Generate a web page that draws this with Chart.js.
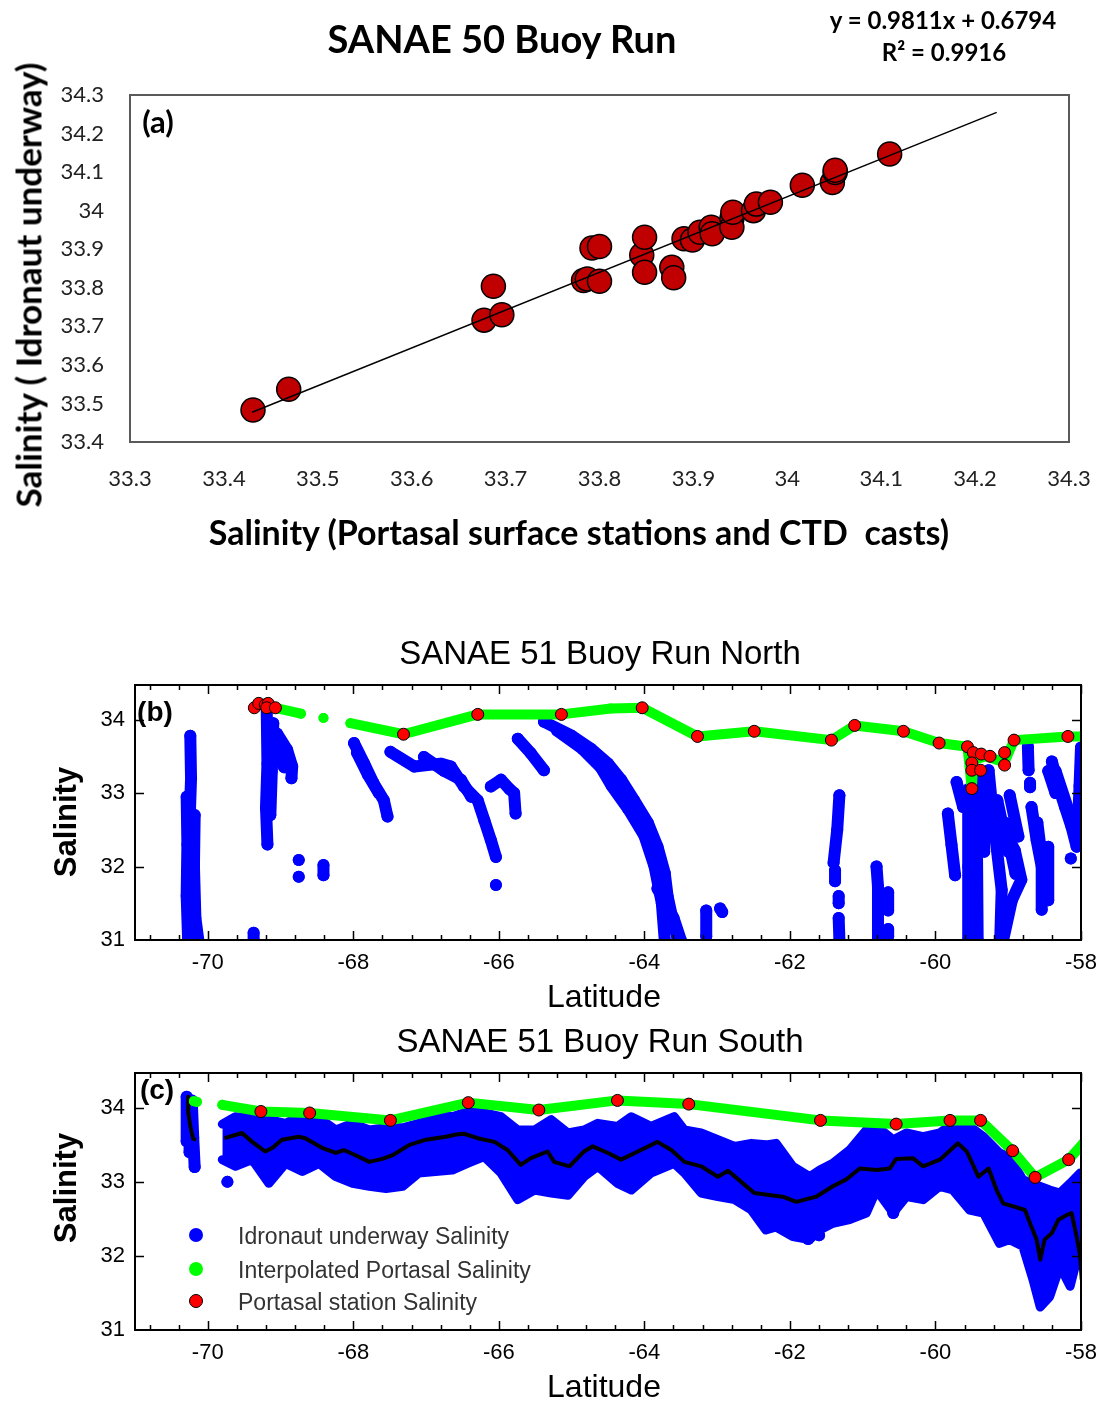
<!DOCTYPE html>
<html><head><meta charset="utf-8">
<script src="https://cdn.jsdelivr.net/npm/chart.js@4.4.1/dist/chart.umd.min.js"></script>
<style>
html,body{margin:0;padding:0;background:#fff;}
#wrap{position:relative;width:1099px;height:1402px;overflow:hidden;background:#fff;}
canvas{position:absolute;left:0;}
.t{position:absolute;white-space:nowrap;line-height:1;transform:translate(-50%,-50%);color:#000;}
.cal{font-family:Lato,"Open Sans",sans-serif;font-weight:700;}
.ari{font-family:"Liberation Sans",Arial,sans-serif;}
.rot{transform:translate(-50%,-50%) rotate(-90deg);}
.lg{position:absolute;left:238px;white-space:nowrap;line-height:1;transform:translateY(-50%);font-family:"Liberation Sans",Arial,sans-serif;font-size:23px;color:#333;}
.dot{position:absolute;width:14px;height:14px;border-radius:50%;transform:translate(-50%,-50%);}
</style></head><body>
<div id="wrap">
<canvas id="cA" width="1099" height="570" style="top:0"></canvas>
<canvas id="cB" width="1099" height="440" style="top:570px"></canvas>
<canvas id="cC" width="1099" height="392" style="top:1010px"></canvas>

<div class="t cal" style="left:502px;top:38px;font-size:38px;">SANAE 50 Buoy Run</div>
<div class="t cal" style="left:943px;top:20px;font-size:24px;">y = 0.9811x + 0.6794</div>
<div class="t cal" style="left:944px;top:52px;font-size:24px;">R² = 0.9916</div>
<div class="t cal" style="left:158px;top:121px;font-size:31px;">(a)</div>
<div class="t cal rot" style="left:28px;top:285px;font-size:35px;">Salinity ( Idronaut underway)</div>
<div class="t cal" style="left:579px;top:532px;font-size:34px;">Salinity (Portasal surface stations and CTD&nbsp; casts)</div>

<div class="t ari" style="left:600px;top:652px;font-size:33px;">SANAE 51 Buoy Run North</div>
<div class="t ari" style="left:155px;top:712px;font-size:28px;font-weight:700;">(b)</div>
<div class="t ari rot" style="left:65px;top:822px;font-size:31px;font-weight:700;">Salinity</div>
<div class="t ari" style="left:604px;top:996px;font-size:32px;">Latitude</div>

<div class="t ari" style="left:600px;top:1040px;font-size:33px;">SANAE 51 Buoy Run South</div>
<div class="t ari" style="left:157px;top:1090px;font-size:28px;font-weight:700;">(c)</div>
<div class="t ari rot" style="left:65px;top:1188px;font-size:31px;font-weight:700;">Salinity</div>
<div class="t ari" style="left:604px;top:1386px;font-size:32px;">Latitude</div>

<div class="dot" style="left:196px;top:1235px;background:#0000ff;"></div>
<div class="dot" style="left:196px;top:1269px;background:#00ff00;"></div>
<div class="dot" style="left:196px;top:1301px;background:#ff0000;border:1px solid #000;width:12px;height:12px;"></div>
<div class="lg" style="top:1236px;">Idronaut underway Salinity</div>
<div class="lg" style="top:1270px;">Interpolated Portasal Salinity</div>
<div class="lg" style="top:1302px;">Portasal station Salinity</div>
</div>

<script>
// ================= Panel (a) data =================
const portasalSalinity = [33.431, 33.469, 33.677, 33.687, 33.696, 33.783, 33.787, 33.792, 33.800, 33.800, 33.845, 33.848, 33.848, 33.877, 33.879, 33.890, 33.899, 33.907, 33.919, 33.920, 33.941, 33.941, 33.942, 33.964, 33.967, 33.982, 34.016, 34.048, 34.051, 34.051, 34.109];
const idronautSalinity = [33.483, 33.537, 33.716, 33.804, 33.730, 33.819, 33.823, 33.903, 33.907, 33.817, 33.885, 33.931, 33.840, 33.853, 33.826, 33.927, 33.924, 33.944, 33.957, 33.940, 33.979, 33.957, 33.996, 34.000, 34.017, 34.022, 34.066, 34.073, 34.099, 34.105, 34.147];
const fitLineX = [33.43, 34.223];
const fitLineY = [33.477, 34.255];
const aXTicks = [33.3, 33.4, 33.5, 33.6, 33.7, 33.8, 33.9, 34.0, 34.1, 34.2, 34.3];
const aXTickLabels = ['33.3','33.4','33.5','33.6','33.7','33.8','33.9','34','34.1','34.2','34.3'];
const aYTicks = [33.4, 33.5, 33.6, 33.7, 33.8, 33.9, 34.0, 34.1, 34.2, 34.3];
const aYTickLabels = ['33.4','33.5','33.6','33.7','33.8','33.9','34','34.1','34.2','34.3'];

// ================= Shared latitude axes (b, c) =================
const latTicks = [-70, -68, -66, -64, -62, -60, -58];
const latTickLabels = ['-70','-68','-66','-64','-62','-60','-58'];
const salTicks = [31, 32, 33, 34];
const salTickLabels = ['31','32','33','34'];

// ================= Panel (b) data =================
const northInterpLat = [-69.30, -69.07, -68.72, null, -68.41, null, -68.04, -67.31, -66.29, -65.14, -64.46, -64.03, -63.27, -62.49, -61.43, -61.11, -60.44, -59.95, -59.56, -59.50, -59.48, -59.30, -59.15, -59.05, -58.92, -58.18, -58.00];
const northInterpSal = [34.20, 34.16, 34.08, null, 34.02, null, 33.95, 33.80, 34.07, 34.07, 34.15, 34.16, 33.77, 33.84, 33.72, 33.92, 33.84, 33.68, 33.63, 33.05, 33.45, 33.50, 33.45, 33.42, 33.72, 33.77, 33.77];
const northStationLat = [-69.36, -69.30, -69.21, -69.17, -69.19, -69.07, -67.31, -66.29, -65.14, -64.03, -63.27, -62.49, -61.43, -61.11, -60.44, -59.95, -59.56, -59.48, -59.37, -59.25, -59.50, -59.50, -59.38, -59.50, -59.05, -59.05, -58.92, -58.18];
const northStationSal = [34.16, 34.22, 34.20, 34.22, 34.16, 34.16, 33.80, 34.07, 34.07, 34.16, 33.77, 33.84, 33.72, 33.92, 33.84, 33.68, 33.63, 33.55, 33.53, 33.50, 33.41, 33.31, 33.31, 33.06, 33.55, 33.38, 33.72, 33.77];
// Idronaut underway tracks (lat, salinity), read along each streak of dots
const northIdronautTracks = [
  [[-70.24,33.78],[-70.23,33.2],[-70.25,32.6],[-70.24,32.0],[-70.24,31.0]],
  [[-70.29,32.95],[-70.28,32.3],[-70.29,31.6],[-70.27,31.0]],
  [[-70.18,32.7],[-70.19,32.0],[-70.17,31.3],[-70.13,31.0]],
  [[-69.37,31.1],[-69.37,31.0]],
  [[-69.19,34.15],[-69.18,33.4],[-69.20,32.8],[-69.18,32.3]],
  [[-69.10,33.95],[-69.12,33.3],[-69.14,32.7]],
  [[-69.05,33.81],[-68.91,33.59],[-68.84,33.36],[-68.85,33.2]],
  [[-69.08,33.6],[-68.95,33.35]],
  [[-68.75,32.09]],
  [[-68.75,31.86]],
  [[-68.41,32.02],[-68.41,31.88]],
  [[-67.99,33.68],[-67.85,33.40],[-67.72,33.13],[-67.58,32.90],[-67.53,32.68]],
  [[-67.95,33.55],[-67.80,33.25],[-67.65,33.0]],
  [[-67.49,33.56],[-67.16,33.36],[-66.80,33.40],[-66.66,33.36],[-66.48,33.09],[-66.29,32.90],[-66.20,32.63],[-66.11,32.36],[-66.04,32.13]],
  [[-67.03,33.49],[-66.75,33.30],[-66.52,33.18],[-66.38,32.95]],
  [[-66.04,31.75]],
  [[-66.11,33.09],[-65.97,33.18],[-65.85,33.05],[-65.79,33.0],[-65.77,32.72]],
  [[-65.74,33.74],[-65.56,33.54],[-65.38,33.31]],
  [[-65.38,33.97],[-65.0,33.78],[-64.73,33.6],[-64.5,33.4],[-64.32,33.18],[-64.14,32.9],[-63.95,32.59],[-63.82,32.27],[-63.72,31.91],[-63.68,31.59],[-63.61,31.27],[-63.54,31.0]],
  [[-65.2,33.85],[-64.85,33.6],[-64.60,33.35],[-64.45,33.1],[-64.22,32.78],[-64.0,32.42],[-63.86,32.0],[-63.76,31.5],[-63.72,31.0]],
  [[-63.82,31.7],[-63.6,31.3],[-63.5,31.0]],
  [[-63.15,31.4],[-63.15,31.05]],
  [[-62.96,31.43],[-62.93,31.38]],
  [[-61.32,32.97],[-61.35,32.5],[-61.40,32.05]],
  [[-61.38,31.95],[-61.38,31.8]],
  [[-61.33,31.6],[-61.33,31.5]],
  [[-61.33,31.3],[-61.32,31.0]],
  [[-60.81,32.0],[-60.79,31.73],[-60.79,31.37],[-60.79,31.0]],
  [[-60.65,31.65],[-60.65,31.4]],
  [[-60.65,31.15],[-60.65,31.05]],
  [[-59.83,32.72],[-59.78,32.3],[-59.73,31.88]],
  [[-59.71,33.15],[-59.62,32.81]],
  [[-59.55,33.05],[-59.55,32.0],[-59.55,31.0]],
  [[-59.48,33.1],[-59.49,32.2],[-59.48,31.0]],
  [[-59.41,33.27],[-59.43,32.3],[-59.42,31.0]],
  [[-59.34,33.2],[-59.33,32.2]],
  [[-59.27,33.31],[-59.20,32.6],[-59.09,31.68],[-59.11,31.0]],
  [[-59.15,32.9],[-59.0,32.2]],
  [[-59.05,32.6],[-58.9,31.9]],
  [[-59.21,32.81],[-58.91,32.22],[-58.82,31.82],[-58.95,31.54],[-59.07,31.0]],
  [[-58.98,32.97],[-58.86,32.41]],
  [[-58.68,32.81],[-58.61,32.36],[-58.54,32.0],[-58.54,31.41]],
  [[-58.60,32.6],[-58.50,31.8]],
  [[-58.45,32.27],[-58.45,31.54]],
  [[-58.73,33.63],[-58.72,33.31]],
  [[-58.70,33.14],[-58.70,33.08]],
  [[-58.40,33.43],[-58.31,33.09],[-58.22,32.81],[-58.13,32.54],[-58.06,32.27]],
  [[-58.45,33.3],[-58.35,33.0]],
  [[-58.35,33.3],[-58.15,32.7]],
  [[-58.0,33.62],[-58.02,33.1],[-58.05,32.35]],
  [[-58.14,32.11]]
];

// ================= Panel (c) data =================
const southInterpLat = [-70.19, -70.15, null, -69.80, -69.27, -68.60, -67.49, -66.42, -65.45, -64.37, -63.39, -61.58, -60.54, -59.80, -59.38, -58.94, -58.63, -58.17, -57.97];
const southInterpSal = [34.09, 34.08, null, 34.04, 33.95, 33.93, 33.83, 34.07, 33.97, 34.10, 34.05, 33.83, 33.78, 33.83, 33.83, 33.42, 33.06, 33.30, 33.52];
const southStationLat = [-69.27, -68.60, -67.49, -66.42, -65.45, -64.37, -63.39, -61.58, -60.54, -59.80, -59.38, -58.94, -58.63, -58.17];
const southStationSal = [33.95, 33.93, 33.83, 34.07, 33.97, 34.10, 34.05, 33.83, 33.78, 33.83, 33.83, 33.42, 33.06, 33.30];
// running-mean (black) line
const southMeanLat = [-70.26,-70.27,-70.24,-70.20,-70.16,null,
  -69.77,-69.53,-69.39,-69.21,-69.11,-68.98,-68.75,-68.66,-68.43,-68.24,-68.13,-67.97,-67.78,-67.60,-67.46,-67.23,-67.00,-66.73,-66.59,-66.48,-66.29,-66.06,-65.88,-65.70,-65.56,-65.33,-65.24,-65.03,-64.83,-64.71,-64.50,-64.32,-64.09,-63.82,-63.63,-63.45,-63.22,-62.99,-62.85,-62.67,-62.49,-62.26,-62.10,-61.91,-61.64,-61.41,-61.23,-61.04,-60.81,-60.63,-60.54,-60.31,-60.17,-59.94,-59.69,-59.57,-59.41,-59.27,-59.16,-59.07,-58.93,-58.77,-58.70,-58.61,-58.56,-58.50,-58.40,-58.31,-58.20,-58.13,-58.06,-58.01,-57.99];
const southMeanSal = [34.15,33.95,33.75,33.58,33.57,null,
  33.59,33.66,33.54,33.41,33.46,33.57,33.61,33.59,33.46,33.39,33.43,33.36,33.27,33.31,33.36,33.50,33.57,33.61,33.64,33.65,33.59,33.54,33.43,33.23,33.32,33.41,33.27,33.21,33.41,33.48,33.39,33.30,33.41,33.54,33.43,33.27,33.21,33.07,33.15,33.00,32.85,32.82,32.80,32.73,32.80,32.94,33.03,33.18,33.16,33.18,33.31,33.32,33.21,33.30,33.52,33.41,33.07,33.18,32.89,32.71,32.67,32.62,32.44,32.22,31.95,32.22,32.31,32.49,32.55,32.58,32.26,31.99,31.68];
// envelope of the dense Idronaut cloud
const southBandLat = [-69.80,-69.62,-69.39,-69.16,-68.93,-68.70,-68.47,-68.24,-68.01,-67.78,-67.55,-67.32,-67.10,-66.87,-66.64,-66.43,-66.20,-65.97,-65.74,-65.51,-65.28,-65.05,-64.83,-64.64,-64.37,-64.18,-63.91,-63.59,-63.45,-63.22,-62.99,-62.76,-62.53,-62.33,-62.19,-61.96,-61.73,-61.59,-61.41,-61.18,-60.95,-60.81,-60.58,-60.40,-60.17,-59.94,-59.76,-59.53,-59.34,-59.12,-58.98,-58.80,-58.66,-58.56,-58.43,-58.29,-58.15,-58.01];
const southBandUpper = [33.78,33.88,33.86,33.84,33.79,33.91,33.86,33.70,33.79,33.70,33.73,33.73,33.79,33.91,33.88,33.95,33.93,33.88,33.70,33.70,33.84,33.66,33.70,33.79,33.75,33.88,33.75,33.88,33.70,33.66,33.57,33.48,33.52,33.50,33.52,33.21,33.07,33.16,33.25,33.43,33.70,33.75,33.57,33.66,33.61,33.66,33.79,33.75,33.61,33.39,33.34,33.03,32.98,32.94,32.89,32.85,32.98,33.12];
const southBandLower = [33.30,33.21,33.30,32.98,33.25,33.14,33.25,33.07,32.98,32.94,32.91,32.94,33.12,33.14,33.16,33.25,33.34,33.12,32.76,32.89,32.85,32.82,33.07,33.21,32.98,32.89,33.12,33.25,33.12,32.85,32.80,32.76,32.62,32.35,32.39,32.26,32.22,32.35,32.44,32.49,32.58,32.89,32.58,32.80,32.76,32.94,32.89,32.62,32.58,32.17,32.22,32.13,31.68,31.31,31.45,31.86,31.59,32.13];
const southIdronautTracks = [
  [[-70.29,34.15],[-70.29,33.55]],
  [[-70.22,34.10],[-70.20,33.6],[-70.18,33.2]],
  [[-70.25,34.0],[-70.25,33.4]],
  [[-69.73,33.0]],
  [[-61.75,32.23]],
  [[-61.60,32.28]],
  [[-60.58,32.66],[-60.58,32.58]]
];

// ================= helpers =================
const pts = (xs, ys) => xs.map((x, i) => ({x: x, y: ys[i]}));
const pairPts = arr => arr.map(p => ({x: p[0], y: p[1]}));

const frameA = {
  id: 'frameA',
  afterDatasetsDraw(chart) {
    const {ctx, chartArea: a} = chart;
    ctx.save();
    ctx.strokeStyle = '#5a5a5a';
    ctx.lineWidth = 2;
    ctx.strokeRect(a.left, a.top, a.right - a.left, a.bottom - a.top);
    ctx.restore();
  }
};

const latFrame = {
  id: 'latFrame',
  afterDatasetsDraw(chart) {
    const {ctx, chartArea: a, scales: {x, y}} = chart;
    ctx.save();
    ctx.strokeStyle = '#000';
    ctx.lineWidth = 1.5;
    ctx.beginPath();
    for (let k = 0; k <= 32; k++) {
      const v = -70.8 + k * 0.4;
      const px = Math.round(x.getPixelForValue(v)) + 0.5;
      const major = Math.abs(v - Math.round(v)) < 1e-6 && Math.round(v) % 2 === 0;
      const len = major ? 9 : 5;
      ctx.moveTo(px, a.bottom); ctx.lineTo(px, a.bottom - len);
      ctx.moveTo(px, a.top); ctx.lineTo(px, a.top + len);
    }
    [32, 33, 34].forEach(v => {
      const py = Math.round(y.getPixelForValue(v)) + 0.5;
      ctx.moveTo(a.left, py); ctx.lineTo(a.left + 9, py);
      ctx.moveTo(a.right, py); ctx.lineTo(a.right - 9, py);
    });
    ctx.stroke();
    ctx.lineWidth = 2;
    ctx.strokeRect(a.left, a.top, a.right - a.left, a.bottom - a.top);
    ctx.restore();
  }
};

Chart.defaults.animation = false;
Chart.defaults.plugins.legend.display = false;
Chart.defaults.plugins.tooltip.enabled = false;

const fitX = h => s => { s.height = h; s.paddingLeft = 0; s.paddingRight = 0; };

// ================= Chart (a) =================
new Chart(document.getElementById('cA'), {
  type: 'scatter',
  data: {
    datasets: [
      {label: 'Linear fit', data: pts(fitLineX, fitLineY), showLine: true, borderColor: '#000', borderWidth: 1.5, pointRadius: 0, order: 0},
      {label: 'Salinity', data: pts(portasalSalinity, idronautSalinity), backgroundColor: '#c00000', borderColor: '#000', borderWidth: 1.5, pointRadius: 12, order: 1}
    ]
  },
  options: {
    responsive: false,
    layout: {padding: {top: 95, right: 30, left: 0, bottom: 0}},
    scales: {
      x: {
        type: 'linear', min: 33.3, max: 34.3,
        afterFit: fitX(128),
        afterBuildTicks: s => { s.ticks = aXTicks.map(v => ({value: v})); },
        ticks: {autoSkip: false, maxRotation: 0, padding: 24, color: '#222', font: {family: 'Lato', size: 22}, callback: (v, i) => aXTickLabels[i]},
        grid: {display: false, drawTicks: false}, border: {display: false}
      },
      y: {
        type: 'linear', min: 33.4, max: 34.3,
        afterFit: s => { s.width = 130; },
        afterBuildTicks: s => { s.ticks = aYTicks.map(v => ({value: v})); },
        ticks: {autoSkip: false, padding: 26, color: '#222', font: {family: 'Lato', size: 22}, callback: (v, i) => aYTickLabels[i]},
        grid: {display: false, drawTicks: false}, border: {display: false}
      }
    }
  },
  plugins: [frameA]
});

function latScales(xHeight) {
  return {
    x: {
      type: 'linear', min: -71, max: -58,
      afterFit: fitX(xHeight),
      afterBuildTicks: s => { s.ticks = latTicks.map(v => ({value: v})); },
      ticks: {autoSkip: false, maxRotation: 0, padding: 10, color: '#000', font: {family: 'Liberation Sans', size: 22}, callback: (v, i) => latTickLabels[i]},
      grid: {display: false, drawTicks: false}, border: {display: false}
    },
    y: {
      type: 'linear', min: 31, max: 34.47,
      afterFit: s => { s.width = 135; },
      afterBuildTicks: s => { s.ticks = salTicks.map(v => ({value: v})); },
      ticks: {autoSkip: false, padding: 10, color: '#000', font: {family: 'Liberation Sans', size: 22}, callback: (v, i) => salTickLabels[i]},
      grid: {display: false, drawTicks: false}, border: {display: false}
    }
  };
}

const blueTrack = (tr, i) => ({
  label: 'Idronaut underway Salinity ' + (i + 1), data: pairPts(tr), showLine: true,
  borderColor: '#0000ff', backgroundColor: '#0000ff', borderWidth: 12, borderCapStyle: 'round', borderJoinStyle: 'round',
  pointRadius: 6, pointBorderWidth: 0, order: 5, clip: 0
});

// ================= Chart (b) =================
new Chart(document.getElementById('cB'), {
  type: 'scatter',
  data: {
    datasets: [
      {label: 'Portasal station Salinity', data: pts(northStationLat, northStationSal), backgroundColor: '#ff0000', borderColor: '#000', borderWidth: 1, pointRadius: 6, order: 0, clip: 0},
      {label: 'Interpolated Portasal Salinity', data: pts(northInterpLat, northInterpSal), showLine: true, spanGaps: false, borderColor: '#00ff00', backgroundColor: '#00ff00', borderWidth: 10, borderJoinStyle: 'round', borderCapStyle: 'round', pointRadius: 5, pointBorderWidth: 0, order: 1, clip: 0}
    ].concat(northIdronautTracks.map(blueTrack))
  },
  options: {
    responsive: false,
    layout: {padding: {top: 115, right: 18, left: 0, bottom: 0}},
    scales: latScales(70)
  },
  plugins: [latFrame]
});

// ================= Chart (c) =================
new Chart(document.getElementById('cC'), {
  type: 'scatter',
  data: {
    datasets: [
      {label: 'Portasal station Salinity', data: pts(southStationLat, southStationSal), backgroundColor: '#ff0000', borderColor: '#000', borderWidth: 1, pointRadius: 6, order: 0, clip: 0},
      {label: 'Interpolated Portasal Salinity', data: pts(southInterpLat, southInterpSal), showLine: true, spanGaps: false, borderColor: '#00ff00', backgroundColor: '#00ff00', borderWidth: 10, borderJoinStyle: 'round', borderCapStyle: 'round', pointRadius: 5, pointBorderWidth: 0, order: 1, clip: 0},
      {label: 'Running mean', data: pts(southMeanLat, southMeanSal), showLine: true, spanGaps: false, borderColor: '#000', borderWidth: 4, borderJoinStyle: 'round', pointRadius: 0, order: 2, clip: 0},
      {label: 'Idronaut upper', data: pts(southBandLat, southBandUpper), showLine: true, borderColor: '#0000ff', backgroundColor: '#0000ff', borderWidth: 9, borderJoinStyle: 'round', borderCapStyle: 'round', pointRadius: 0, fill: false, order: 4, clip: 0},
      {label: 'Idronaut lower', data: pts(southBandLat, southBandLower), showLine: true, borderColor: '#0000ff', backgroundColor: '#0000ff', borderWidth: 9, borderJoinStyle: 'round', borderCapStyle: 'round', pointRadius: 0, fill: 3, order: 4, clip: 0}
    ].concat(southIdronautTracks.map(blueTrack))
  },
  options: {
    responsive: false,
    layout: {padding: {top: 63, right: 18, left: 0, bottom: 0}},
    scales: latScales(72)
  },
  plugins: [latFrame]
});
</script>
</body></html>
